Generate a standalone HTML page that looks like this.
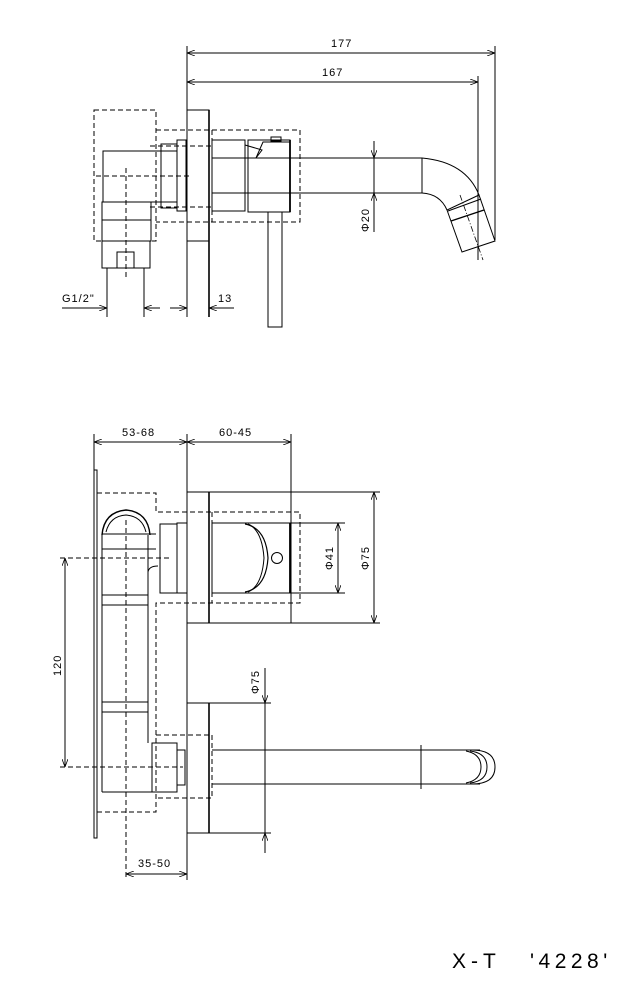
<!DOCTYPE html>
<html><head><meta charset="utf-8"><style>
html,body{margin:0;padding:0;background:#fff;}
svg{display:block;}
text{font-family:"Liberation Sans",sans-serif;fill:#000;}
</style></head><body>
<svg width="624" height="981" viewBox="0 0 624 981" xmlns="http://www.w3.org/2000/svg">
<defs>
<marker id="a" markerWidth="8" markerHeight="6" refX="8" refY="3" orient="auto-start-reverse" markerUnits="userSpaceOnUse"><path d="M0,0 L8,3 L0,6" fill="none" stroke="#000" stroke-width="0.8"/></marker>
</defs>
<g fill="none" stroke="#000" stroke-width="1">
<!-- ===== TOP VIEW ===== -->
<line x1="187" y1="46" x2="187" y2="317"/>
<line x1="187" y1="53" x2="495" y2="53" marker-start="url(#a)" marker-end="url(#a)"/>
<line x1="495" y1="46" x2="495" y2="240"/>
<line x1="187" y1="82" x2="478" y2="82" marker-start="url(#a)" marker-end="url(#a)"/>
<line x1="478" y1="76" x2="478" y2="260"/>
<rect x="187" y="110" width="22" height="131"/>
<line x1="209" y1="110" x2="209" y2="317" stroke-width="1.6"/>
<g stroke-dasharray="5,3">
<rect x="94" y="110" width="62" height="131"/>
<polyline points="156,130 300,130 300,222 156,222"/>
<line x1="212" y1="130" x2="212" y2="222"/>
<line x1="150" y1="146" x2="212" y2="146"/>
<line x1="150" y1="207" x2="212" y2="207"/>
<line x1="96" y1="176" x2="190" y2="176"/>
<line x1="126" y1="168" x2="126" y2="278"/>
</g>
<rect x="103" y="151" width="74" height="51"/>
<rect x="102" y="202" width="49" height="39"/>
<line x1="102" y1="220" x2="151" y2="220"/>
<rect x="102" y="241" width="48" height="27"/>
<rect x="117" y="252" width="17" height="16"/>
<rect x="161" y="144" width="16" height="64"/>
<rect x="177" y="140" width="9" height="71"/>
<line x1="107" y1="268" x2="107" y2="317"/>
<line x1="144" y1="268" x2="144" y2="317"/>
<line x1="62" y1="308" x2="107" y2="308" marker-end="url(#a)"/>
<line x1="144" y1="308" x2="160" y2="308" marker-start="url(#a)"/>
<line x1="170" y1="308" x2="187" y2="308" marker-end="url(#a)"/>
<line x1="209" y1="308" x2="234" y2="308" marker-start="url(#a)"/>
<rect x="212" y="140" width="33" height="71"/>
<rect x="248" y="140" width="42" height="72"/>
<line x1="290" y1="140" x2="290" y2="212" stroke-width="1.8"/>
<polyline points="245,145 262,150 256,158"/>
<polyline points="256,158 263,142 290,142"/>
<rect x="271" y="137" width="10" height="4"/>
<rect x="268" y="212" width="14" height="115"/>
<line x1="212" y1="158" x2="422" y2="158"/>
<line x1="212" y1="193" x2="422" y2="193"/>
<line x1="422" y1="158" x2="422" y2="193"/>
<path d="M422,158 Q466,162 479,195"/>
<path d="M422,193 Q440,194 447,210"/>
<polygon points="447,210 462,252 495,241 479,195"/>
<line x1="448" y1="211" x2="481" y2="199"/>
<line x1="451" y1="221" x2="484" y2="210" stroke-width="1.4"/>
<line x1="460" y1="195" x2="483" y2="260" stroke-dasharray="6,2,1,2" stroke-width="0.8"/>
<line x1="374" y1="141" x2="374" y2="232"/>
<line x1="374" y1="148" x2="374" y2="158" marker-end="url(#a)"/>
<line x1="374" y1="203" x2="374" y2="193" marker-end="url(#a)"/>

<!-- ===== BOTTOM VIEW ===== -->
<line x1="94" y1="442" x2="187" y2="442" marker-start="url(#a)" marker-end="url(#a)"/>
<line x1="187" y1="442" x2="291" y2="442" marker-start="url(#a)" marker-end="url(#a)"/>
<line x1="94" y1="434" x2="94" y2="470"/>
<line x1="187" y1="434" x2="187" y2="880"/>
<line x1="291" y1="434" x2="291" y2="623"/>
<polyline points="94,470 97,470 97,838 94,838 94,470"/>
<rect x="187" y="492" width="22" height="131"/>
<line x1="209" y1="492" x2="209" y2="623" stroke-width="1.6"/>
<line x1="209" y1="492" x2="380" y2="492"/>
<line x1="209" y1="623" x2="380" y2="623"/>
<line x1="374" y1="492" x2="374" y2="623" marker-start="url(#a)" marker-end="url(#a)"/>
<rect x="212" y="523" width="79" height="70"/>
<line x1="290" y1="523" x2="290" y2="593" stroke-width="1.8"/>
<line x1="291" y1="523" x2="345" y2="523"/>
<line x1="291" y1="593" x2="345" y2="593"/>
<line x1="338" y1="523" x2="338" y2="593" marker-start="url(#a)" marker-end="url(#a)"/>
<path d="M245,524 Q266,528 268,558 Q266,588 245,592" stroke-width="1.2"/>
<path d="M248,524 Q262,530 264,558 Q262,586 248,592"/>
<circle cx="277" cy="558" r="5.5"/>
<g stroke-dasharray="5,3">
<polyline points="97,493 156,493 156,512 300,512 300,603 156,603 156,812 97,812"/>
<line x1="212" y1="512" x2="212" y2="603"/>
<polyline points="156,735 212,735 212,798 156,798"/>
<line x1="60" y1="558" x2="170" y2="558"/>
<line x1="60" y1="767" x2="183" y2="767"/>
<line x1="126" y1="520" x2="126" y2="880"/>
</g>
<path d="M102,535 Q104,512 126,510 Q148,512 150,535" stroke-width="1.4"/>
<path d="M106,532 Q110,516 126,515 Q142,516 146,532"/>
<line x1="102" y1="535" x2="102" y2="792"/>
<line x1="148" y1="535" x2="148" y2="595"/>
<line x1="102" y1="534" x2="156" y2="534"/>
<line x1="102" y1="549" x2="156" y2="549"/>
<rect x="102" y="595" width="46" height="10"/>
<rect x="102" y="702" width="46" height="10"/>
<line x1="148" y1="605" x2="148" y2="702"/>
<line x1="148" y1="712" x2="148" y2="743"/>
<line x1="102" y1="792" x2="152" y2="792"/>
<path d="M148,595 L148,572 Q149,566 158,566"/>
<rect x="160" y="524" width="17" height="69"/>
<rect x="177" y="523" width="10" height="70"/>
<line x1="65" y1="558" x2="65" y2="767" marker-start="url(#a)" marker-end="url(#a)"/>
<rect x="187" y="703" width="22" height="130"/>
<line x1="209" y1="703" x2="209" y2="833" stroke-width="1.6"/>
<line x1="209" y1="703" x2="271" y2="703"/>
<line x1="209" y1="833" x2="271" y2="833"/>
<line x1="265" y1="668" x2="265" y2="703" marker-end="url(#a)"/>
<line x1="265" y1="853" x2="265" y2="833" marker-end="url(#a)"/>
<line x1="265" y1="703" x2="265" y2="833"/>
<rect x="152" y="743" width="25" height="49"/>
<rect x="177" y="750" width="8" height="35"/>
<line x1="212" y1="750" x2="480" y2="750"/>
<line x1="212" y1="784" x2="480" y2="784"/>
<line x1="421" y1="745" x2="421" y2="789"/>
<path d="M472,750 Q495,750 495,767 Q495,784 472,784"/>
<path d="M470,751 Q487,753 487,767 Q487,781 470,783"/>
<path d="M466,751 Q481,754 481,767 Q481,780 466,783"/>
<line x1="126" y1="874" x2="187" y2="874" marker-start="url(#a)" marker-end="url(#a)"/>
</g>
<g font-size="11" letter-spacing="1">
<text x="331" y="47">177</text>
<text x="322" y="76">167</text>
<text x="62" y="302">G1/2"</text>
<text x="218" y="302">13</text>
<text transform="translate(369,232) rotate(-90)">Φ20</text>
<text x="122" y="436">53-68</text>
<text x="219" y="436">60-45</text>
<text transform="translate(333,570) rotate(-90)">Φ41</text>
<text transform="translate(369,570) rotate(-90)">Φ75</text>
<text transform="translate(61,676) rotate(-90)">120</text>
<text transform="translate(259,694) rotate(-90)">Φ75</text>
<text x="138" y="867">35-50</text>
</g>
<text x="452" y="968" font-size="21" letter-spacing="5">X-T</text>
<text x="530" y="968" font-size="21" letter-spacing="4.5">'4228'</text>
</svg>
</body></html>
